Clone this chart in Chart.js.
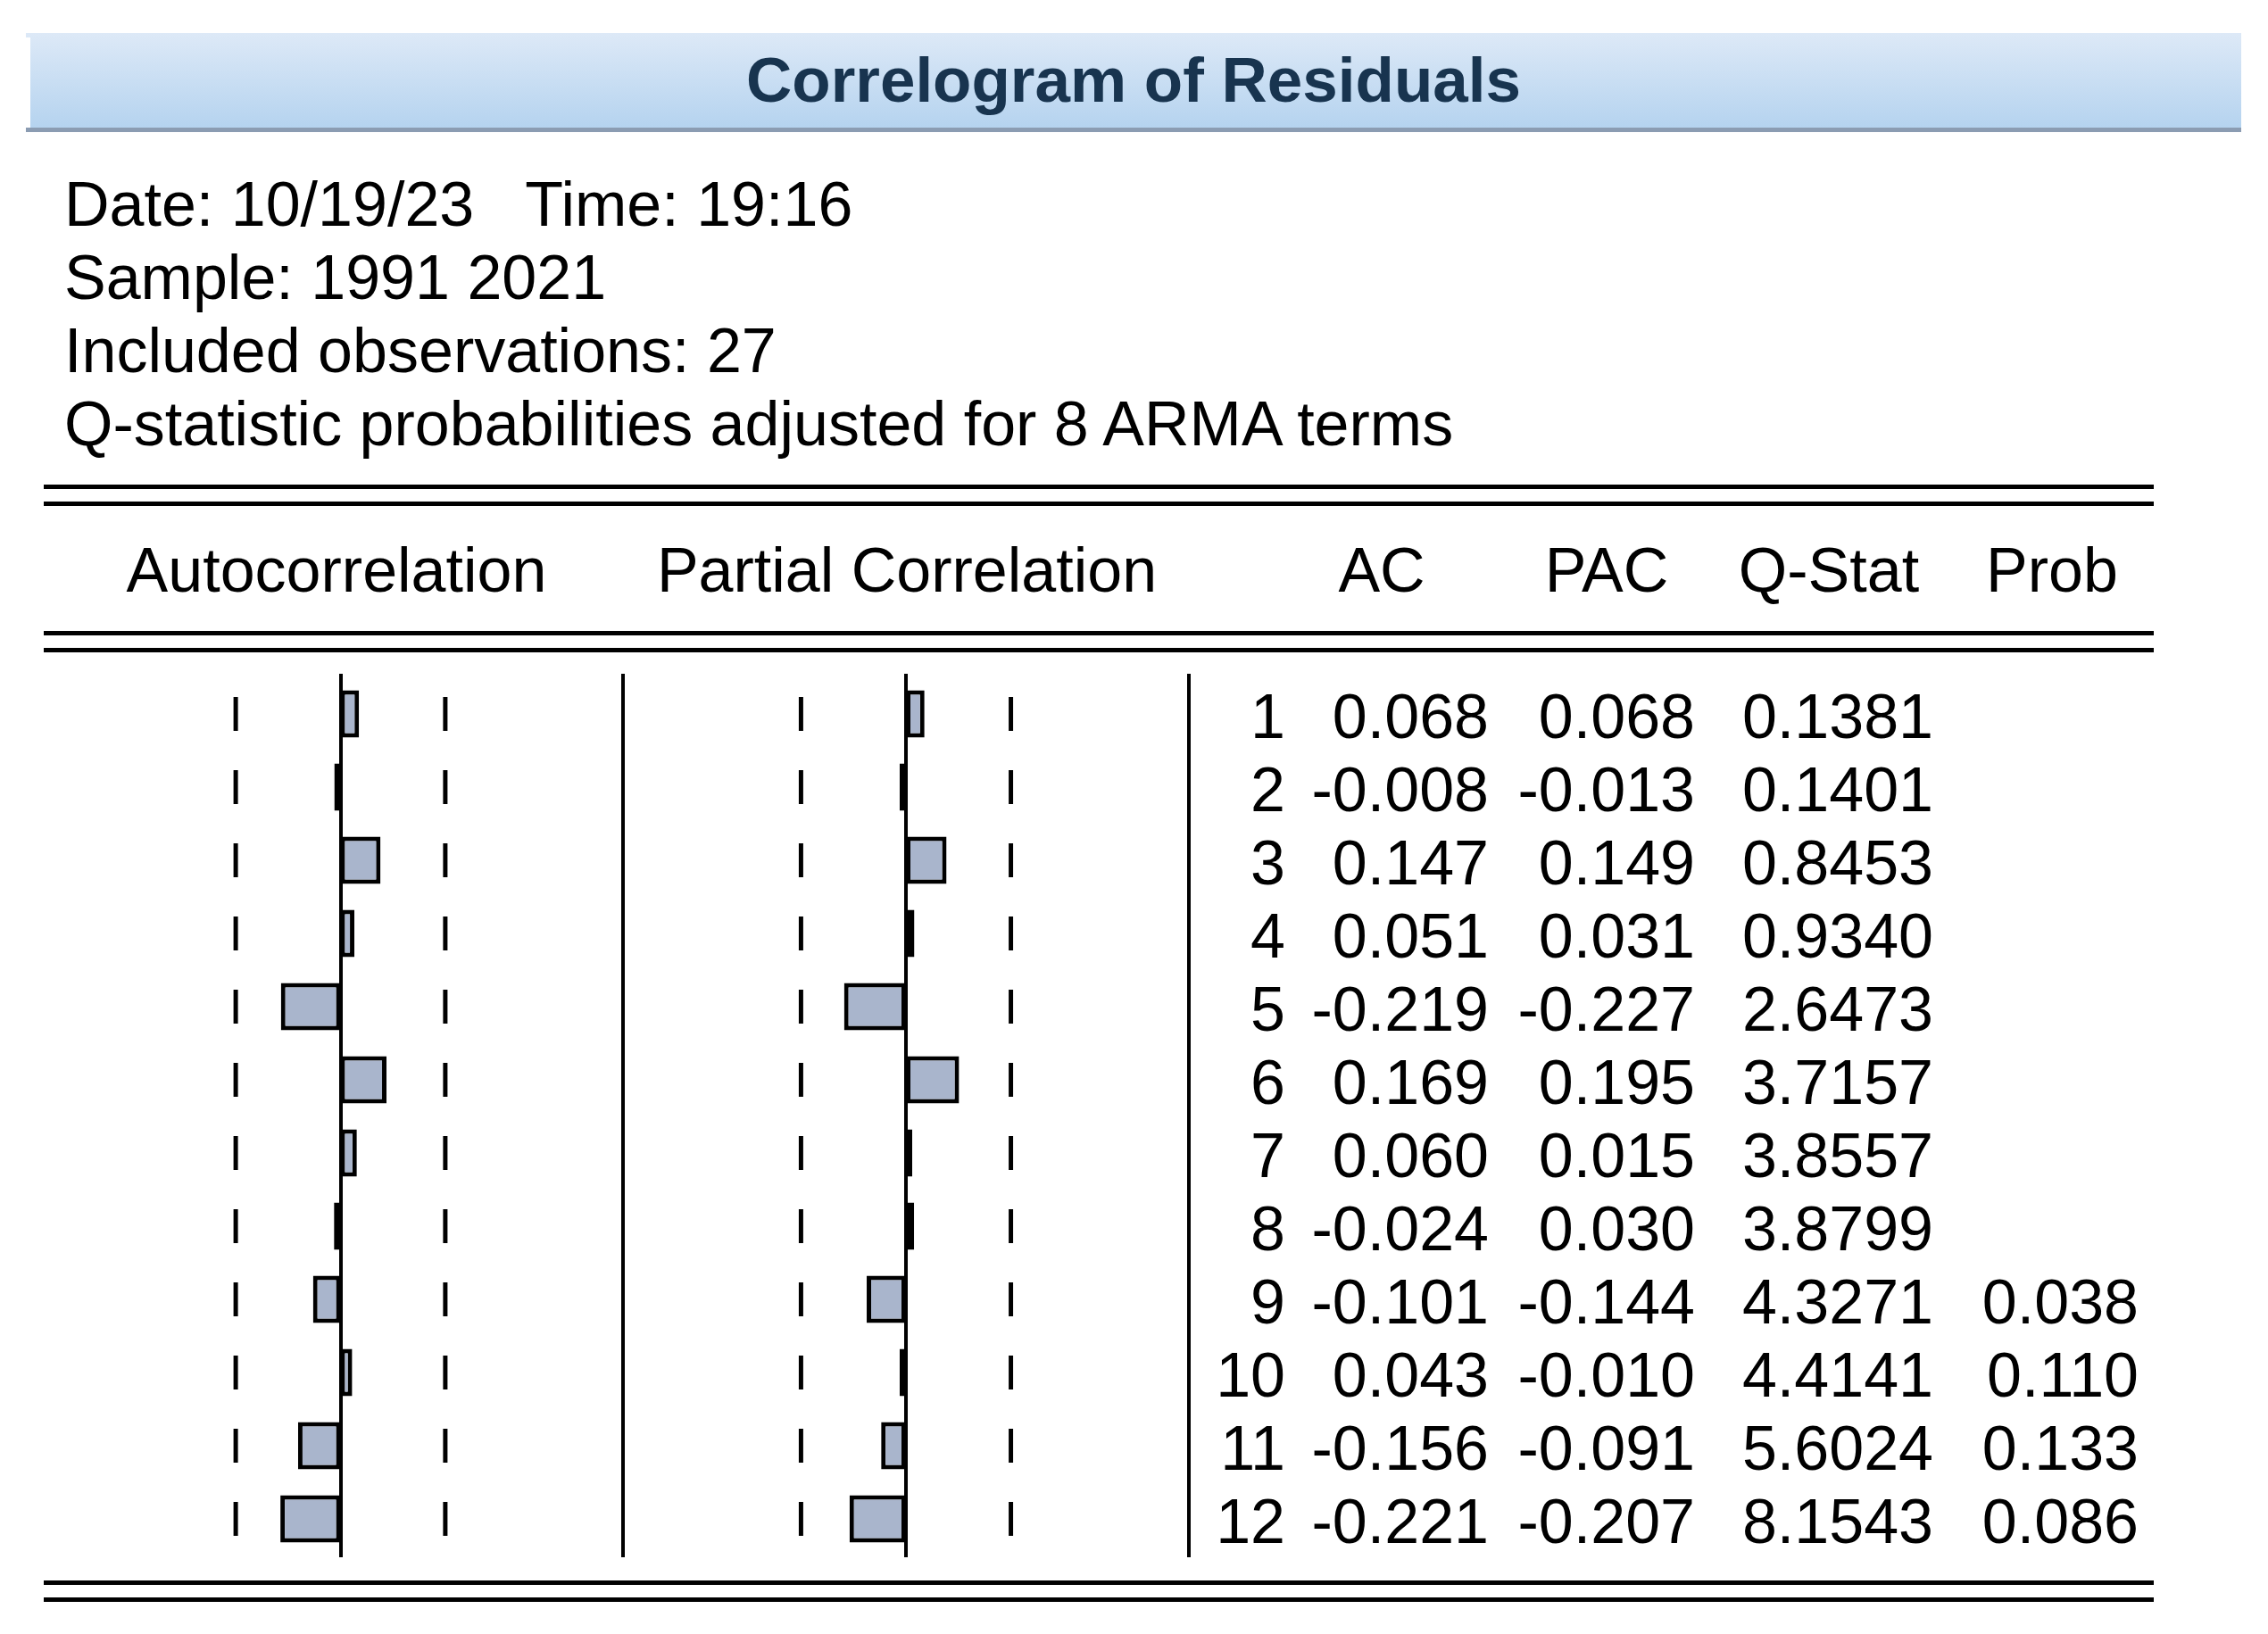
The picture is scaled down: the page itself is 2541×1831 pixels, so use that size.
<!DOCTYPE html>
<html>
<head>
<meta charset="utf-8">
<script src="https://cdn.jsdelivr.net/npm/chart.js@4.4.0/dist/chart.umd.min.js"></script>
<style>
  html, body { margin: 0; padding: 0; background: #fff; }
  #page { position: relative; width: 2541px; height: 1831px; overflow: hidden;
          font-family: 'Liberation Sans', Arial, sans-serif; color: #000; }
  .titlebar { position: absolute; left: 29px; top: 37px; width: 2482px; height: 106px;
              background: linear-gradient(#dde9f7, #b5d3ef); border-bottom: 5px solid #8b9cb2;
              text-align: center; font-weight: bold; font-size: 71px; line-height: 106px; color: #18344f; }
  .titlebar .edge { position: absolute; left: 0; top: 5px; width: 5px; height: 101px; background: #fff; }
  .t { position: absolute; white-space: pre; line-height: 1; }
  .hr { position: absolute; left: 49px; width: 2364px; height: 5px; background: #000; }
  .vr { position: absolute; width: 4px; top: 755px; height: 990px; background: #000; }
  canvas { position: absolute; }
</style>
</head>
<body>
<div id="page">
  <div class="titlebar"><div class="edge"></div>Correlogram of Residuals</div>
  <div class="hr" style="top:543px"></div>
  <div class="hr" style="top:562px"></div>
  <div class="hr" style="top:707px"></div>
  <div class="hr" style="top:726px"></div>
  <div class="hr" style="top:1771px"></div>
  <div class="hr" style="top:1790px"></div>
  <div class="vr" style="left:696px"></div>
  <div class="vr" style="left:1330px"></div>
  <canvas id="acChart" width="633" height="990" style="left:65px;top:755px;width:633px;height:990px"></canvas>
  <canvas id="pacChart" width="634" height="990" style="left:698px;top:755px;width:634px;height:990px"></canvas>
</div>
<script>
// correlogram values
const lags = [1, 2, 3, 4, 5, 6, 7, 8, 9, 10, 11, 12];
const acValues = [0.068, -0.008, 0.147, 0.051, -0.219, 0.169, 0.060, -0.024, -0.101, 0.043, -0.156, -0.221];
const pacValues = [0.068, -0.013, 0.149, 0.031, -0.227, 0.195, 0.015, 0.030, -0.144, -0.010, -0.091, -0.207];
const qStats = [0.1381, 0.1401, 0.8453, 0.9340, 2.6473, 3.7157, 3.8557, 3.8799, 4.3271, 4.4141, 5.6024, 8.1543];
const probs = [null, null, null, null, null, null, null, null, 0.038, 0.110, 0.133, 0.086];
const band = 0.385; // dashed significance marks

const headerLines = [
  'Date: 10/19/23   Time: 19:16',
  'Sample: 1991 2021',
  'Included observations: 27',
  'Q-statistic probabilities adjusted for 8 ARMA terms'
];
const columnHeads = ['Autocorrelation', 'Partial Correlation', 'AC', 'PAC', 'Q-Stat', 'Prob'];

const page = document.getElementById('page');
const ASC = 0.8465; // baseline offset for line-height:1 in Liberation Sans

function addText(str, x, baseline, size, align) {
  const d = document.createElement('div');
  d.className = 't';
  d.textContent = str;
  d.style.fontSize = size + 'px';
  d.style.top = (baseline - ASC * size) + 'px';
  if (align === 'right') {
    d.style.right = (2541 - x) + 'px';
    d.style.textAlign = 'right';
  } else if (align === 'center') {
    d.style.left = x + 'px';
    d.style.transform = 'translateX(-50%)';
  } else {
    d.style.left = x + 'px';
  }
  page.appendChild(d);
}

headerLines.forEach((s, i) => addText(s, 72, 253 + i * 82, 70));

const headCenters = [377, 1016, 1548, 1800, 2049, 2299];
columnHeads.forEach((s, i) => addText(s, headCenters[i], 663, 70, 'center'));

const zeroLine = {
  id: 'zeroLine',
  afterDatasetsDraw(chart) {
    const { ctx, scales: { x } } = chart;
    const px = Math.round(x.getPixelForValue(0));
    ctx.save();
    ctx.fillStyle = '#000';
    ctx.fillRect(px - 2, 0, 4, chart.height);
    ctx.restore();
  }
};

function makeChart(id, values) {
  const labels = lags.map(String);
  const marks = [];
  labels.forEach((l) => {
    marks.push({ x: -band, y: l });
    marks.push({ x: band, y: l });
  });
  return new Chart(document.getElementById(id), {
    type: 'bar',
    data: {
      labels: labels,
      datasets: [
        {
          type: 'scatter',
          data: marks,
          pointStyle: 'line',
          rotation: 90,
          pointRadius: 19,
          pointBorderWidth: 5,
          pointBorderColor: '#000',
          pointBackgroundColor: '#000',
        },
        {
          data: values,
          backgroundColor: '#a9b5cc',
          borderColor: '#000',
          borderWidth: 5,
          borderSkipped: false,
          minBarLength: 7,
          barPercentage: 0.646,
          categoryPercentage: 1,
        },
      ],
    },
    options: {
      indexAxis: 'y',
      responsive: false,
      animation: false,
      devicePixelRatio: 1,
      layout: { autoPadding: false, padding: { top: 4, bottom: 2, left: 0, right: 0 } },
      plugins: { legend: { display: false }, tooltip: { enabled: false } },
      scales: {
        x: { type: 'linear', min: -1.038, max: 1.038, display: false },
        y: { type: 'category', display: false },
      },
    },
    plugins: [zeroLine],
  });
}

const acChart = makeChart('acChart', acValues);
const pacChart = makeChart('pacChart', pacValues);

// numeric columns aligned to the chart rows
const canvasTop = 755;
const colRight = [1440, 1668, 1899, 2166, 2396];
lags.forEach((lag, i) => {
  const cy = canvasTop + acChart.scales.y.getPixelForValue(i);
  const base = cy + 27;
  const cells = [
    String(lag),
    acValues[i].toFixed(3),
    pacValues[i].toFixed(3),
    qStats[i].toFixed(4),
    probs[i] === null ? '' : probs[i].toFixed(3),
  ];
  cells.forEach((c, j) => { if (c) addText(c, colRight[j], base, 70, 'right'); });
});
</script>
</body>
</html>
